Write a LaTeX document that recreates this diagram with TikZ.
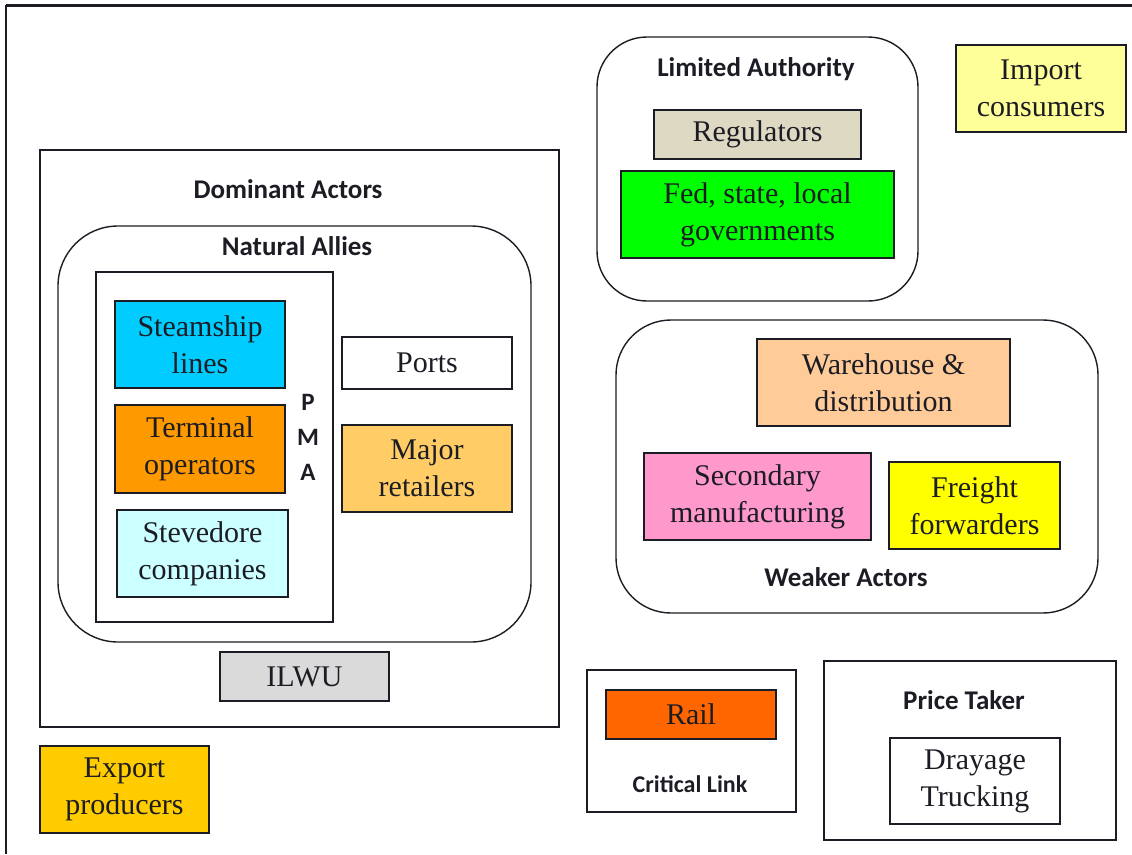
\documentclass[tikz,border=0pt]{standalone}
\usepackage{fontspec}
\setmainfont{Liberation Serif}
\newfontfamily\labelfont{Carlito}
\usepackage{tikz}
\usetikzlibrary{positioning}
\definecolor{steamblue}{HTML}{00CCFF}
\definecolor{termorange}{HTML}{FF9900}
\definecolor{stevecyan}{HTML}{CCFFFF}
\definecolor{retailgold}{HTML}{FFCC66}
\definecolor{ilwugray}{HTML}{DADADA}
\definecolor{exportgold}{HTML}{FFCC00}
\definecolor{regtan}{HTML}{DDD9C3}
\definecolor{govgreen}{HTML}{00FF00}
\definecolor{importyellow}{HTML}{FFFF99}
\definecolor{warepeach}{HTML}{FFCC99}
\definecolor{secpink}{HTML}{FF99CC}
\definecolor{freightyellow}{HTML}{FFFF00}
\definecolor{railorange}{HTML}{FF6600}
\definecolor{ink}{HTML}{1C1C24}
\tikzset{
    every picture/.style={line join=miter},
    actorbox/.style={draw=ink,line width=1.6pt,inner sep=0pt,outer sep=0pt,
      align=center,text=ink,font=\fontsize{30}{37}\selectfont},
    groupbox/.style={draw=ink,line width=1.4pt,inner sep=0pt,outer sep=0pt},
    roundbox/.style={groupbox,rounded corners=#1},
    grouplabel/.style={text=ink,inner sep=0pt,
      font=\labelfont\bfseries\fontsize{27}{32}\selectfont},
    sz/.style 2 args={minimum width=#1pt,minimum height=#2pt}
}
\begin{document}
\begin{tikzpicture}[x=1pt,y=-1pt]
    \useasboundingbox (0,0) rectangle (1132,854);
    % page frame
    \draw[ink,line width=3pt] (6,5) -- (1132,5);
    \draw[ink,line width=2.4pt] (6,5) -- (6,854);
    % dominant actors
    \node[groupbox,sz={519}{577}] (dominant) at (299.5,438.5) {};
    \node[grouplabel] (domlabel) at (288,189) {Dominant Actors};
    \node[roundbox=60pt,sz={473}{416}] (allies) at (294.5,434) {};
    \node[grouplabel] (allylabel) at (297,246) {Natural Allies};
    \node[groupbox,sz={237}{350}] (pma) at (214.5,447) {};
    \node[actorbox,fill=steamblue,sz={170}{87}] (steamship) at (200,344.5) {Steamship\\lines};
    \node[actorbox,fill=termorange,sz={170}{88}] (terminal) at (200,449) {Terminal\\operators};
    \node[actorbox,fill=stevecyan,sz={171}{87}] (stevedore) at (202.5,553.5) {Stevedore\\companies};
    \foreach \ch [count=\i] in {P,M,A}
        \node[grouplabel,font=\labelfont\bfseries\fontsize{25}{30}\selectfont]
          (pma\i) at (308,367+35*\i) {\ch};
    \node[actorbox,fill=white,sz={170}{52}] (ports) at (427,363) {Ports};
    \node[actorbox,fill=retailgold,sz={170}{87}] (retailers) at (427,468.5) {Major\\retailers};
    \node[actorbox,fill=ilwugray,sz={169}{49}] (ilwu) at (304.5,676.5) {ILWU};
    \node[actorbox,fill=exportgold,sz={169}{87}] (export) at (124.5,789.5) {Export\\producers};
    % limited authority
    \node[roundbox=50pt,sz={321}{264}] (limited) at (757.5,169) {};
    \node[grouplabel] (limlabel) at (756,69) {Limited Authority};
    \node[actorbox,fill=regtan,sz={207}{49}] (regulators) at (757.5,134.5) {Regulators};
    \node[actorbox,fill=govgreen,sz={273}{87}] (govts) at (757.5,214.5) {Fed, state, local\\governments};
    \node[actorbox,fill=importyellow,sz={170}{87}] (import) at (1041,88.5) {Import\\consumers};
    % weaker actors
    \node[roundbox=55pt,sz={482}{293}] (weaker) at (857,466.5) {};
    \node[actorbox,fill=warepeach,sz={253}{87}] (warehouse) at (883.5,382.5) {Warehouse \&\\distribution};
    \node[actorbox,fill=secpink,sz={227}{87}] (secondary) at (757.5,496.5) {Secondary\\manufacturing};
    \node[actorbox,fill=freightyellow,sz={171}{87}] (freight) at (974.5,505.5) {Freight\\forwarders};
    \node[grouplabel] (weaklabel) at (846,577) {Weaker Actors};
    % critical link and price taker
    \node[groupbox,sz={209}{142}] (critical) at (691.5,741) {};
    \node[actorbox,fill=railorange,sz={170}{49}] (rail) at (691,714.5) {Rail};
    \node[grouplabel,font=\labelfont\bfseries\fontsize{24}{29}\selectfont]
      (critlabel) at (690,784) {Critical Link};
    \node[groupbox,sz={292}{179}] (price) at (970,750.5) {};
    \node[grouplabel] (pricelabel) at (964,700) {Price Taker};
    \node[actorbox,fill=white,sz={170}{86}] (drayage) at (975,781) {Drayage\\Trucking};
\end{tikzpicture}
\end{document}
